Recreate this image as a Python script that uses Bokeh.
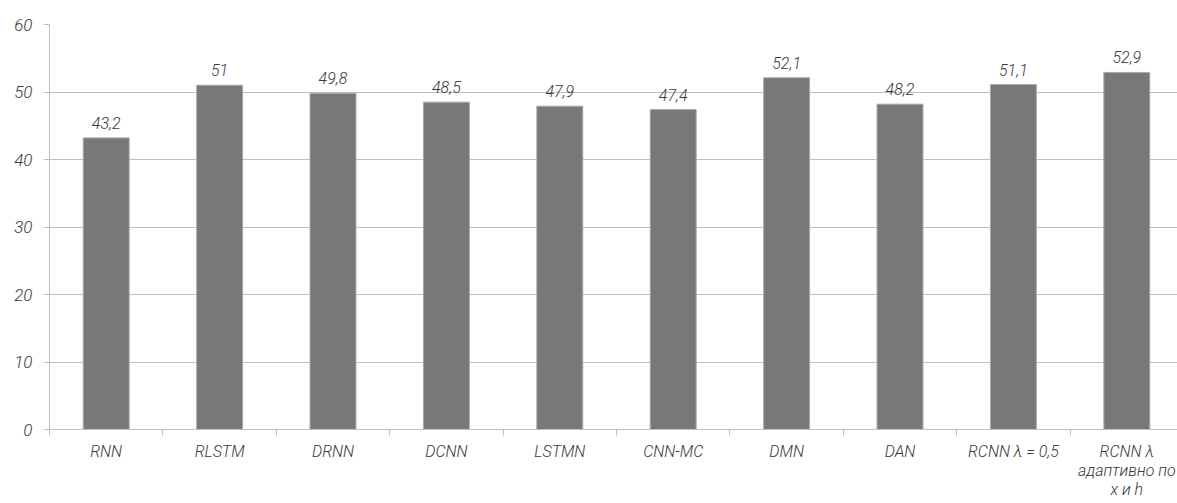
from bokeh.plotting import figure
from bokeh.models import Range1d, FixedTicker, ColumnDataSource
from bokeh.core.properties import value
from bokeh.embed import file_html
from bokeh.resources import INLINE

# Model names and their scores
models = ["RNN", "RLSTM", "DRNN", "DCNN", "LSTMN", "CNN-MC", "DMN", "DAN",
          "RCNN λ = 0,5", "RCNN λ\nадаптивно по\nx и h"]
scores = [43.2, 51, 49.8, 48.5, 47.9, 47.4, 52.1, 48.2, 51.1, 52.9]
y_ticks = [0, 10, 20, 30, 40, 50, 60]

FONT = "'Roboto Light', 'Roboto'"
TEXT_COLOR = "#3a3a3a"
GRID_COLOR = "#c0c0c0"

xs = [i + 0.5 for i in range(len(models))]
labels = [("%g" % v).replace(".", ",") for v in scores]
src = ColumnDataSource(dict(x=xs, top=scores, label=labels))

p = figure(width=1177, height=503, output_backend="svg", toolbar_location=None,
           x_range=Range1d(0, 9.947), y_range=Range1d(0, 60),
           min_border_left=49, min_border_right=0, min_border_top=24,
           min_border_bottom=74)
p.outline_line_color = None
p.background_fill_color = "white"
p.border_fill_color = "white"

p.vbar(x="x", top="top", width=0.405, source=src,
       fill_color="#787878", line_color="#a8a8a8", line_width=1)

p.text(x="x", y="top", text="label", source=src, y_offset=-9,
       text_align="center", text_baseline="bottom",
       text_font=value(FONT), text_font_style="italic",
       text_font_size="16px", text_color=TEXT_COLOR)

# y axis
p.yaxis.ticker = FixedTicker(ticks=y_ticks)
p.yaxis.axis_line_color = GRID_COLOR
p.yaxis.major_tick_line_color = GRID_COLOR
p.yaxis.major_tick_out = 6
p.yaxis.major_tick_in = 0
p.yaxis.minor_tick_line_color = None
p.yaxis.major_label_standoff = 11
p.yaxis.major_label_text_font = FONT
p.yaxis.major_label_text_font_style = "italic"
p.yaxis.major_label_text_font_size = "17px"
p.yaxis.major_label_text_color = TEXT_COLOR

# x axis: labels at category centres, short ticks at category boundaries
p.xaxis.ticker = FixedTicker(ticks=xs, minor_ticks=list(range(len(models) + 1)))
p.xaxis.major_label_overrides = {x: m for x, m in zip(xs, models)}
p.xaxis.axis_line_color = GRID_COLOR
p.xaxis.major_tick_line_color = None
p.xaxis.minor_tick_line_color = GRID_COLOR
p.xaxis.minor_tick_out = 6
p.xaxis.minor_tick_in = 0
p.xaxis.major_label_standoff = 6
p.xaxis.major_label_text_font = FONT
p.xaxis.major_label_text_font_style = "italic"
p.xaxis.major_label_text_font_size = "16px"
p.xaxis.major_label_text_color = TEXT_COLOR
p.xaxis.major_label_text_line_height = 1.0

p.xgrid.grid_line_color = None
p.ygrid.ticker = FixedTicker(ticks=y_ticks)
p.ygrid.grid_line_color = GRID_COLOR
p.ygrid.grid_line_width = 1

open("out.html", "w").write(file_html(p, INLINE))
